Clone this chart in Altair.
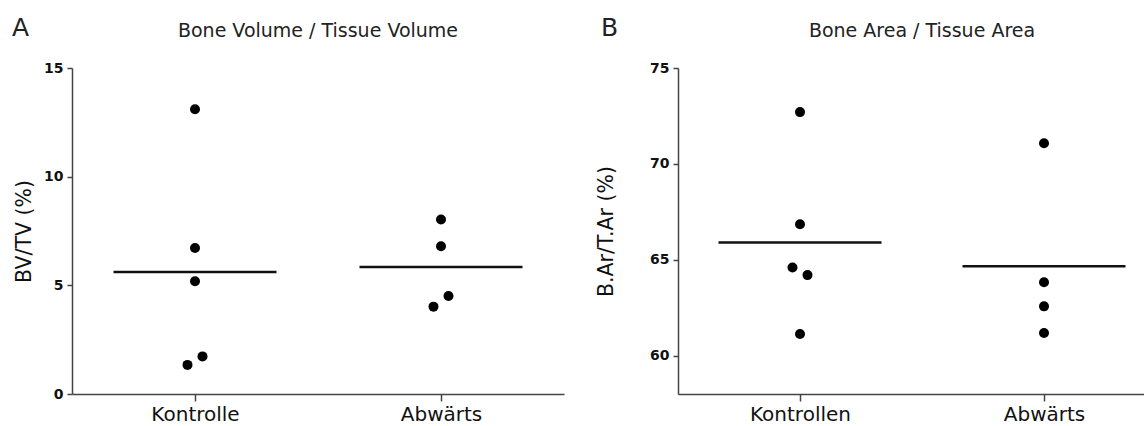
import json
import altair as alt
import pandas as pd

# ---- Panel A data (BV/TV %) ----
groups_a = ["Kontrolle", "Abwärts"]
kontrolle_a = [13.10, 6.72, 5.19, 1.73, 1.34]
kontrolle_a_side = ["C", "C", "C", "R", "L"]
abwaerts_a = [8.03, 6.80, 4.51, 4.02]
abwaerts_a_side = ["C", "C", "R", "L"]

# ---- Panel B data (B.Ar/T.Ar %) ----
groups_b = ["Kontrollen", "Abwärts"]
kontrollen_b = [72.70, 66.85, 64.60, 64.20, 61.13]
kontrollen_b_side = ["C", "C", "L", "R", "C"]
abwaerts_b = [71.08, 63.83, 62.57, 61.18]
abwaerts_b_side = ["C", "C", "C", "C"]

ticks_a = [0, 5, 10, 15]
ticks_b = [60, 65, 70, 75]


def make_df(groups, vals1, side1, vals2, side2):
    rows = []
    for v, s in zip(vals1, side1):
        rows.append({"group": groups[0], "value": v, "side": s})
    for v, s in zip(vals2, side2):
        rows.append({"group": groups[1], "value": v, "side": s})
    return pd.DataFrame(rows)


df_a = make_df(groups_a, kontrolle_a, kontrolle_a_side, abwaerts_a, abwaerts_a_side)
df_b = make_df(groups_b, kontrollen_b, kontrollen_b_side, abwaerts_b, abwaerts_b_side)

PLOT_H = 326
FONT = "DejaVu Sans"
INK = "#111"
AXIS = "#444"


def panel(df, groups, title, ytitle, ydomain, yticks, width, step, letter,
          letter_x, title_pad):
    jit = 7.5 / step
    gexpr = f"indexof({json.dumps(groups, ensure_ascii=False)}, datum.group) + 0.5"
    label_expr = f"datum.value < 1 ? '{groups[0]}' : '{groups[1]}'"
    x = alt.X(
        "gx:Q",
        scale=alt.Scale(domain=[0, width / step], nice=False, zero=False),
        axis=alt.Axis(
            title=None, values=[0.5, 1.5], labelExpr=label_expr, labelAngle=0,
            labelFont=FONT, labelFontSize=20, labelColor=INK, labelPadding=3,
            tickSize=7, tickColor=AXIS, tickWidth=1.5, domainColor=AXIS,
            domainWidth=1.5, grid=False, labelFlush=False, labelOverlap=False,
        ),
    )
    y = alt.Y(
        "value:Q",
        scale=alt.Scale(domain=ydomain, nice=False, zero=False),
        axis=alt.Axis(
            title=ytitle, values=yticks, titleFont=FONT, titleFontSize=20.5,
            titleFontWeight="normal", titleColor=INK, titlePadding=title_pad,
            labelFont=FONT, labelFontSize=14, labelFontWeight="bold",
            labelColor=INK, labelPadding=4, tickSize=5, tickColor=AXIS,
            tickWidth=1.5, domainColor=AXIS, domainWidth=1.5, grid=False,
        ),
    )
    pts = (
        alt.Chart(df)
        .transform_calculate(g0=gexpr)
        .transform_calculate(
            gx=f"datum.g0 + (datum.side == 'L' ? {-jit} : datum.side == 'R' ? {jit} : 0)"
        )
        .mark_circle(size=100, color="black", opacity=1)
        .encode(x=x, y=y)
    )
    mean = (
        alt.Chart(df)
        .transform_aggregate(value="mean(value)", groupby=["group"])
        .transform_calculate(gx=gexpr)
        .mark_tick(orient="horizontal", size=163, thickness=2.5, color=INK, opacity=1)
        .encode(x=x, y=y)
    )
    lab = (
        alt.Chart(pd.DataFrame({"t": [letter]}))
        .mark_text(font=FONT, fontSize=25, align="left", baseline="alphabetic", color="#222")
        .encode(text="t:N", x=alt.value(letter_x), y=alt.value(-32))
    )
    ttl = (
        alt.Chart(pd.DataFrame({"t": [title]}))
        .mark_text(font=FONT, fontSize=19, align="center", baseline="alphabetic", color="#222")
        .encode(text="t:N", x=alt.value(step), y=alt.value(-31))
    )
    return alt.layer(mean, pts, lab, ttl).properties(
        width=width,
        height=PLOT_H,
        view=alt.ViewBackground(stroke="transparent", strokeWidth=0, strokeOpacity=0),
    )


pa = panel(df_a, groups_a, "Bone Volume / Tissue Volume", "BV/TV (%)",
           [0, 15], ticks_a, 492, 246, "A", -60, 9)
pb = panel(df_b, groups_b, "Bone Area / Tissue Area", "B.Ar/T.Ar (%)",
           [58, 75], ticks_b, 466, 244, "B", -77, 33)

chart = (
    alt.hconcat(pa, pb, spacing=32)
    .properties(padding={"left": 12, "top": 16, "right": 0, "bottom": 0})
    .configure_view(stroke="transparent", strokeWidth=0, strokeOpacity=0)
    .configure(background="white")
)

chart.save("out.html", embed_options={"renderer": "svg", "actions": False})
